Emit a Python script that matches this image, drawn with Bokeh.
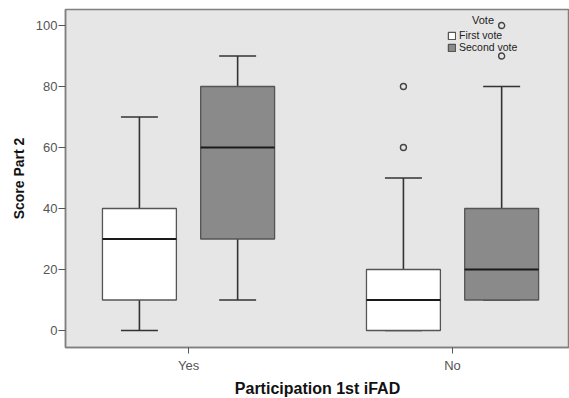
import numpy as np
from bokeh.plotting import figure
from bokeh.models import Range1d, FixedTicker, Label, Legend, LegendItem
from bokeh.embed import file_html
from bokeh.resources import INLINE

# ---- data ----
groups = ["Yes", "No"]
series = ["First vote", "Second vote"]

first_low = [0, 0]
first_q1 = [10, 0]
first_median = [30, 10]
first_q3 = [40, 20]
first_high = [70, 50]

second_low = [10, 10]
second_q1 = [30, 10]
second_median = [60, 20]
second_q3 = [80, 40]
second_high = [90, 80]

first_out_group = ["No", "No"]
first_out_value = [60, 80]
second_out_group = ["No", "No"]
second_out_value = [90, 100]

y_ticks = [0, 20, 40, 60, 80, 100]

# ---- styling ----
FONT = "Liberation Sans"
BG = "#e6e6e6"
DARK = "#333333"
OFF = 0.186
BW = 0.28
CAP = 0.14

p = figure(frame_width=504, frame_height=338, min_border_left=65, min_border_right=0,
           min_border_top=9, min_border_bottom=43,
           x_range=Range1d(-0.466, 1.443), y_range=Range1d(-5.57, 105.25),
           output_backend="svg", toolbar_location=None)
p.background_fill_color = BG
p.border_fill_color = "white"
p.outline_line_color = "#808080"
p.outline_line_width = 1.5
p.grid.visible = False

idx = {g: i for i, g in enumerate(groups)}
gx = np.array([idx[g] for g in groups], dtype=float)

renderers = []
specs = [
    (gx - OFF, first_low, first_q1, first_median, first_q3, first_high, "white", "#555555"),
    (gx + OFF, second_low, second_q1, second_median, second_q3, second_high, "#8a8a8a", "#555555"),
]
for x, lo, q1, med, q3, hi, fill, line in specs:
    # whiskers
    p.segment(x0=x, x1=x, y0=q3, y1=hi, line_color=DARK, line_width=1.6)
    p.segment(x0=x, x1=x, y0=lo, y1=q1, line_color=DARK, line_width=1.6)
    p.segment(x0=x - CAP / 2, x1=x + CAP / 2, y0=hi, y1=hi, line_color=DARK, line_width=1.6)
    p.segment(x0=x - CAP / 2, x1=x + CAP / 2, y0=lo, y1=lo, line_color=DARK, line_width=1.6)
    r = p.vbar(x=x, width=BW, bottom=q1, top=q3, fill_color=fill, line_color=line, line_width=1.3)
    renderers.append(r)
    p.segment(x0=x - BW / 2, x1=x + BW / 2, y0=med, y1=med, line_color="#1a1a1a", line_width=2.2)

ox1 = np.array([idx[g] for g in first_out_group], dtype=float) - OFF
ox2 = np.array([idx[g] for g in second_out_group], dtype=float) + OFF
p.scatter(ox1, first_out_value, size=6, fill_color=None, line_color="#444444", line_width=1.4)
p.scatter(ox2, second_out_value, size=6, fill_color=None, line_color="#444444", line_width=1.4)

# axes
p.xaxis.ticker = FixedTicker(ticks=list(gx))
p.xaxis.major_label_overrides = {float(i): g for i, g in enumerate(groups)}
p.yaxis.ticker = FixedTicker(ticks=y_ticks)
p.xaxis.axis_label = "Participation 1st iFAD"
p.yaxis.axis_label = "Score Part 2"
for ax in (p.xaxis, p.yaxis):
    ax.axis_label_text_font = FONT
    ax.axis_label_text_font_style = "bold"
    ax.axis_label_text_color = "#111111"
    ax.major_label_text_font = FONT
    ax.major_label_text_font_size = "13px"
    ax.major_label_text_color = "#555555"
    ax.axis_line_color = "#808080"
    ax.axis_line_width = 1.5
    ax.major_tick_line_color = "#555555"
    ax.major_tick_in = 0
    ax.minor_tick_line_color = None
p.xaxis.axis_label_text_font_size = "16px"
p.yaxis.axis_label_text_font_size = "14px"
p.xaxis.major_tick_out = 6
p.yaxis.major_tick_out = 7
p.xaxis.major_label_standoff = 4
p.xaxis.axis_label_standoff = 4
p.yaxis.major_label_standoff = 1
p.yaxis.axis_label_standoff = 6

legend = Legend(items=[LegendItem(label=s, renderers=[r]) for s, r in zip(series, renderers)],
                location=(382, 294), background_fill_alpha=0, border_line_color=None,
                label_text_font=FONT, label_text_font_size="10.5px", label_text_color="#222222",
                glyph_width=9, glyph_height=9, label_height=9, label_standoff=3,
                spacing=0, padding=1, margin=0)
p.add_layout(legend)
p.add_layout(Label(x=417.5, y=322, x_units="screen", y_units="screen", text="Vote",
                   text_align="center", text_font=FONT, text_font_size="11px",
                   text_color="#222222"))

open("out.html", "w").write(file_html(p, INLINE))
